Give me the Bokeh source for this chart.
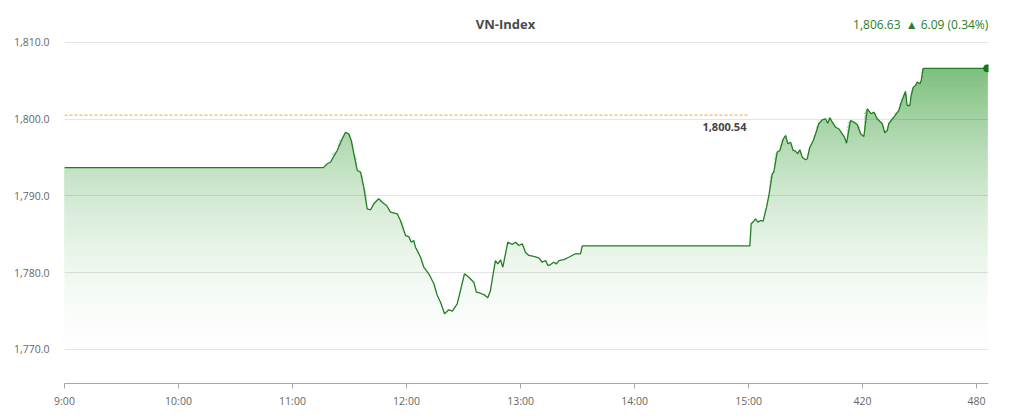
import numpy as np
from bokeh.plotting import figure
from bokeh.models import Range1d, FixedTicker, NumeralTickFormatter, Label
from bokeh.embed import file_html
from bokeh.resources import INLINE

# minutes since 9:00 and VN-Index value
minutes = [0, 136.3, 138.3, 140.0, 143.5, 146.2, 147.9, 149.6, 150.9, 152.3,
           154.1, 155.8, 157.5, 159.3, 161.1, 162.8, 165.4, 167.2, 169.5, 171.6,
           175.1, 176.8, 179.5, 181.2, 182.5, 183.8, 184.7, 187.4, 189.1, 191.7,
           194.4, 196.2, 197.9, 200.0, 202.3, 204.1, 206.7, 208.4, 210.5, 212.8,
           215.4, 216.8, 218.9, 220.7, 222.8, 224.2, 225.9, 226.8, 228.1, 229.5,
           230.7, 232.1, 233.3, 235.6, 237.4, 239.1, 240.9, 242.6, 244.4, 247.0,
           249.6, 251.4, 253.2, 254.4, 255.8, 257.5, 258.9, 260.2, 262.8, 265.4,
           267.2, 268.9, 271.6, 272.5, 360.7, 361.4, 362.8, 363.7, 364.9, 366.3,
           367.7, 369.5, 370.7, 372.5, 373.3, 375.1, 376.5, 378.3, 379.5, 380.7,
           382.1, 383.5, 384.7, 385.9, 387.0, 388.3, 390.0, 390.9, 392.3, 394.1,
           395.3, 397.0, 398.8, 400.5, 401.7, 402.8, 404.1, 405.8, 407.5, 409.3,
           410.5, 411.6, 413.7, 415.4, 417.2, 419.0, 420.7, 422.5, 424.6, 426.0,
           427.7, 430.4, 431.7, 433.0, 433.8, 436.5, 439.1, 440.4, 441.4, 442.6,
           443.5, 444.9, 445.6, 446.7, 447.9, 448.8, 450.2, 450.9, 451.9, 485.6]
index_values = [1793.70, 1793.70, 1794.20, 1794.40, 1795.93, 1797.45, 1798.31, 1798.10, 1797.23, 1795.50,
                1793.32, 1793.10, 1791.15, 1788.33, 1788.20, 1788.98, 1789.63, 1789.19, 1788.76, 1787.89,
                1787.68, 1786.81, 1784.85, 1784.72, 1783.98, 1784.20, 1783.33, 1782.02, 1780.72, 1779.86,
                1778.56, 1777.03, 1776.16, 1774.65, 1775.17, 1774.99, 1775.95, 1777.69, 1779.86, 1779.42,
                1778.77, 1777.46, 1777.33, 1777.16, 1776.73, 1777.69, 1780.29, 1781.59, 1781.16, 1781.69,
                1780.72, 1782.47, 1783.98, 1783.68, 1783.98, 1783.55, 1783.77, 1782.68, 1782.25, 1782.12,
                1781.95, 1781.37, 1781.59, 1780.94, 1781.07, 1781.37, 1781.16, 1781.59, 1781.72, 1782.02,
                1782.25, 1782.47, 1782.47, 1783.50, 1783.50, 1786.38, 1786.72, 1787.03, 1786.59, 1786.81,
                1786.72, 1788.54, 1790.06, 1792.89, 1793.10, 1795.71, 1795.93, 1797.45, 1797.88, 1796.80,
                1797.01, 1795.93, 1795.85, 1795.50, 1796.02, 1795.05, 1794.72, 1794.85, 1796.36, 1797.23,
                1798.10, 1799.41, 1799.93, 1800.06, 1799.48, 1800.19, 1799.62, 1798.96, 1798.76, 1798.10,
                1797.66, 1796.88, 1799.84, 1799.62, 1799.32, 1798.10, 1797.75, 1801.36, 1800.71, 1800.92,
                1800.06, 1799.41, 1798.23, 1798.53, 1799.41, 1800.27, 1801.14, 1802.22, 1802.87, 1803.62,
                1801.79, 1801.79, 1803.09, 1804.18, 1804.40, 1804.83, 1804.62, 1805.05, 1806.63, 1806.63]

ref_value = 1800.54     # previous close
ref_end = 360.5         # dashed line stops at 15:00
x_ticks = [0, 60, 120, 180, 240, 300, 360, 420, 480]
x_tick_labels = ["9:00", "10:00", "11:00", "12:00", "13:00", "14:00", "15:00", "420", "480"]
y_ticks = [1770, 1780, 1790, 1800, 1810]

FONT = "Open Sans"

x = np.array(minutes)
y = np.array(index_values)
# the frame reaches the top of the canvas so the header texts sit inside it
y_lo, y_hi = 1765.57, 1815.47

p = figure(width=1010, height=410, output_backend="svg", toolbar_location=None,
           x_range=Range1d(0, 486.3), y_range=Range1d(y_lo, y_hi),
           min_border_left=64, min_border_right=22, min_border_top=0, min_border_bottom=27)
p.outline_line_color = None
p.background_fill_color = "white"

# gradient fill: stacked areas, each one a bit greener than the one below
top = y.max()
levels = np.linspace(y_lo, top, 70)
for lv in levels[:-1]:
    t = (lv - y_lo) / (top - y_lo)
    a = 0.52 * t * t
    r = int(round(255 - a * 255))
    g = int(round(255 - a * (255 - 130)))
    b = int(round(255 - a * 255))
    p.varea(x=x, y1=lv, y2=np.maximum(y, lv), fill_color="#%02x%02x%02x" % (r, g, b),
            level="image")

p.line(x, y, line_color="#237f23", line_width=1.3)
p.scatter([x[-1]], [y[-1]], size=7, color="#117a11")

p.line([0, ref_end], [ref_value, ref_value], line_color="#f0a830", line_width=1, line_dash="3 2")
p.add_layout(Label(x=ref_end - 1.6, y=ref_value, y_offset=-12, text="{:,.2f}".format(ref_value),
                   text_align="right", text_baseline="middle", text_font=FONT,
                   text_font_size="11px", text_color="#444444", text_font_style="bold"))

# header texts
p.add_layout(Label(x=232.1, y=1812.47, text="VN-Index", text_align="center", text_baseline="middle",
                   text_font=FONT, text_font_size="13px", text_font_style="bold", text_color="#4a4a4a"))
change = index_values[-1] - ref_value
p.add_layout(Label(x=440.0, y=1812.34, text="{:,.2f}".format(index_values[-1]),
                   text_align="right", text_baseline="middle",
                   text_font=FONT, text_font_size="12px", text_color="#2a7d2a"))
p.add_layout(Label(x=486.2, y=1812.34,
                   text="\u25b2 {:.2f} ({:.2f}%)".format(change, change / ref_value * 100),
                   text_align="right", text_baseline="middle",
                   text_font=FONT, text_font_size="12px", text_color="#2a7d2a"))

p.ygrid.ticker = FixedTicker(ticks=y_ticks)
p.ygrid.grid_line_color = "black"
p.ygrid.grid_line_alpha = 0.1
p.ygrid.level = "underlay"
p.xgrid.visible = False

p.yaxis.ticker = FixedTicker(ticks=y_ticks)
p.yaxis.formatter = NumeralTickFormatter(format="0,0.0")
p.yaxis.axis_line_color = None
p.yaxis.major_tick_line_color = None
p.yaxis.minor_tick_line_color = None
p.yaxis.major_label_standoff = 9

p.xaxis.ticker = FixedTicker(ticks=x_ticks)
p.xaxis.major_label_overrides = dict(zip(x_ticks, x_tick_labels))
p.xaxis.axis_line_color = "#a8a8a8"
p.xaxis.major_tick_line_color = "#a8a8a8"
p.xaxis.major_tick_out = 5
p.xaxis.major_tick_in = 0
p.xaxis.minor_tick_line_color = None
p.xaxis.major_label_standoff = 5

for ax in (p.xaxis, p.yaxis):
    ax.major_label_text_font = FONT
    ax.major_label_text_font_size = "10.5px"
    ax.major_label_text_color = "#666666"

open("out.html", "w").write(file_html(p, INLINE))
